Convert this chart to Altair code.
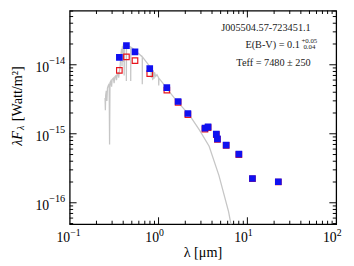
import altair as alt
import pandas as pd

# ---------------- data ----------------
band_wl = [0.362, 0.435, 0.543, 0.796, 1.24, 1.66, 2.14, 3.33, 3.61,
           4.47, 4.60, 5.77, 8.02, 11.4, 22.3]
blue_flux = [1.28e-14, 1.89e-14, 1.54e-14, 8.8e-15, 4.67e-15, 2.94e-15,
             1.97e-15, 1.21e-15, 1.26e-15, 9.9e-16, 8.45e-16, 6.86e-16,
             5.07e-16, 2.25e-16, 2.02e-16]
red_flux = [8.3e-15, 1.30e-14, 1.15e-14, 7.46e-15, 4.3e-15, 2.85e-15,
            1.90e-15, 1.17e-15, 1.23e-15, 9.7e-16, 8.3e-16, 6.8e-16,
            5.0e-16, 2.23e-16, 2.0e-16]

spec_wl = [0.250, 0.252, 0.254, 0.258, 0.262, 0.266, 0.272, 0.278, 0.281,
           0.284, 0.290, 0.296, 0.300, 0.310, 0.316, 0.322, 0.330, 0.336,
           0.342, 0.350, 0.356, 0.362, 0.368, 0.372, 0.378, 0.383, 0.388,
           0.392, 0.397, 0.401, 0.410, 0.4101, 0.412, 0.425, 0.434, 0.4341,
           0.436, 0.460, 0.486, 0.4861, 0.488, 0.520, 0.560, 0.600, 0.656,
           0.6561, 0.658, 0.720, 0.780, 0.820, 0.830, 0.840, 0.860, 0.870,
           0.890, 0.900, 0.930, 0.960, 1.000, 1.005, 1.010, 1.135, 1.280,
           1.590, 2.230, 2.880, 3.710, 4.780, 6.150, 7.200]
spec_flux = [3.3e-15, 2.2e-15, 3.6e-15, 4.2e-15, 3.0e-15, 4.6e-15, 5.0e-15,
             5.3e-15, 7.0e-16, 5.5e-15, 5.8e-15, 4.8e-15, 6.1e-15, 6.4e-15,
             5.4e-15, 6.7e-15, 6.9e-15, 6.0e-15, 7.2e-15, 7.5e-15, 6.5e-15,
             8.0e-15, 9.0e-15, 1.1e-14, 1.45e-14, 1.7e-14, 9.5e-15, 1.85e-14,
             1.1e-14, 1.95e-14, 2.0e-14, 7.0e-15, 2.0e-14, 1.98e-14, 1.95e-14,
             5.8e-15, 1.94e-14, 1.88e-14, 1.8e-14, 5.8e-15, 1.8e-14, 1.7e-14,
             1.56e-14, 1.44e-14, 1.3e-14, 5.2e-15, 1.3e-14, 1.12e-14, 9.8e-15,
             9.0e-15, 6.5e-15, 8.7e-15, 6.0e-15, 8.3e-15, 6.3e-15, 7.8e-15,
             6.8e-15, 7.2e-15, 6.5e-15, 5.0e-15, 6.4e-15, 5.3e-15, 4.3e-15,
             3.03e-15, 1.86e-15, 1.14e-15, 6.6e-16, 2.5e-16, 7.4e-17, 2.5e-17]

# tick values and tick labels (base "10" with exponents)
x_tick_values = [0.1, 1, 10, 100]
x_tick_exps = ["−1", "0", "1", "2"]
y_tick_values = [1e-16, 1e-15, 1e-14]
y_tick_exps = ["−16", "−15", "−14"]
tick_base = "10"
x_minor = [m * 10.0 ** k for k in (-1, 0, 1) for m in range(2, 10)]
y_minor = [m * 10.0 ** k for k in (-17, -16, -15, -14) for m in range(2, 10)]

x_title = "λ [μm]"
y_title_parts = ["λF", "λ", "[Watt/m²]"]

label_name = "J005504.57-723451.1"
label_ebv = "E(B-V) = 0.1"
label_ebv_up = "+0.05"
label_ebv_dn = "0.04"
label_teff = "Teff = 7480 ± 250"

# ---------------- layout ----------------
W, H = 272, 218
XMIN, XMAX = 0.1, 100
YMIN, YMAX = 4.9e-17, 6.1e-14
FONT = "Liberation Serif"

xscale = alt.Scale(type="log", domain=[XMIN, XMAX], nice=False)
yscale = alt.Scale(type="log", domain=[YMIN, YMAX], nice=False)

spec_df = pd.DataFrame({"wl": spec_wl, "flux": spec_flux,
                        "order": list(range(len(spec_wl)))})
phot_df = pd.DataFrame({"wl": band_wl, "blue": blue_flux, "red": red_flux})

spectrum = alt.Chart(spec_df).mark_line(
    color="#c6c6c6", strokeWidth=1.3, clip=True
).encode(
    x=alt.X("wl:Q", scale=xscale, axis=None),
    y=alt.Y("flux:Q", scale=yscale, axis=None),
    order="order:Q",
)

red_pts = alt.Chart(phot_df).mark_point(
    shape="square", filled=False, color="#e8141c", size=32, strokeWidth=1.2,
    opacity=1, clip=True
).encode(
    x=alt.X("wl:Q", scale=xscale, axis=None),
    y=alt.Y("red:Q", scale=yscale, axis=None),
)

blue_pts = alt.Chart(phot_df).mark_point(
    shape="square", filled=True, color="#1010f0", size=46, opacity=1,
    clip=True
).encode(
    x=alt.X("wl:Q", scale=xscale, axis=None),
    y=alt.Y("blue:Q", scale=yscale, axis=None),
)


def xticks(vals, y0, y1):
    return alt.Chart(pd.DataFrame({"v": vals})).mark_rule(
        color="black", strokeWidth=1
    ).encode(x=alt.X("v:Q", scale=xscale, axis=None),
             y=alt.value(y0), y2=alt.value(y1))


def yticks(vals, x0, x1):
    return alt.Chart(pd.DataFrame({"v": vals})).mark_rule(
        color="black", strokeWidth=1
    ).encode(y=alt.Y("v:Q", scale=yscale, axis=None),
             x=alt.value(x0), x2=alt.value(x1))


x_major_inner = [1, 10]
y_minor_in = [v for v in y_minor if YMIN < v < YMAX]
tick_layers = [
    xticks(x_major_inner, H, H - 7), xticks(x_minor, H, H - 3.5),
    xticks(x_major_inner, 0, 7), xticks(x_minor, 0, 3.5),
    yticks(y_tick_values, 0, 7), yticks(y_minor_in, 0, 3.5),
    yticks(y_tick_values, W, W - 7), yticks(y_minor_in, W, W - 3.5),
]

# tick labels built as "10" + raised exponent
xl_df = pd.DataFrame({"v": x_tick_values, "base": [tick_base] * 4,
                      "exp": x_tick_exps})
yl_df = pd.DataFrame({"v": y_tick_values, "base": [tick_base] * 3,
                      "exp": y_tick_exps})

x_lab_base = alt.Chart(xl_df).mark_text(
    font=FONT, fontSize=14, color="black", align="right", baseline="middle",
    dx=0.5
).encode(x=alt.X("v:Q", scale=xscale, axis=None), y=alt.value(H + 14.5),
         text="base:N")
x_lab_exp = alt.Chart(xl_df).mark_text(
    font=FONT, fontSize=10, color="black", align="left", baseline="middle",
    dx=0.5
).encode(x=alt.X("v:Q", scale=xscale, axis=None), y=alt.value(H + 9),
         text="exp:N")
y_lab_base = alt.Chart(yl_df).mark_text(
    font=FONT, fontSize=14, color="black", align="right", baseline="middle",
    dy=3
).encode(y=alt.Y("v:Q", scale=yscale, axis=None), x=alt.value(-21),
         text="base:N")
y_lab_exp = alt.Chart(yl_df).mark_text(
    font=FONT, fontSize=10.5, color="black", align="left", baseline="middle",
    dy=-4
).encode(y=alt.Y("v:Q", scale=yscale, axis=None), x=alt.value(-21),
         text="exp:N")

ann_df = pd.DataFrame({"t": [0]})


def txt(text, x, y, size, align="right", angle=0, style="normal",
        color="#1a1a1a"):
    return alt.Chart(ann_df).mark_text(
        text=text, font=FONT, fontSize=size, color=color, align=align,
        baseline="middle", angle=angle, fontStyle=style
    ).encode(x=alt.value(x), y=alt.value(y))


annotations = [
    txt(label_name, 246, 18, 10.5),
    txt(label_ebv, 235, 35.5, 10.5),
    txt(label_ebv_up, 236.5, 31, 7, "left"),
    txt(label_ebv_dn, 238.5, 37.5, 7, "left"),
    txt(label_teff, 246, 54, 10.5),
]

# axis titles
titles = [
    txt(x_title, W / 2, 248, 14.5, "center", color="black"),
    txt(y_title_parts[0], -53, 138, 14.5, "left", 270, "italic", "black"),
    txt(y_title_parts[1], -49.5, 122, 10, "left", 270, "italic", "black"),
    txt(y_title_parts[2], -53, 113, 14.5, "left", 270, "normal", "black"),
]

chart = alt.layer(
    spectrum, red_pts, blue_pts, *tick_layers,
    x_lab_base, x_lab_exp, y_lab_base, y_lab_exp,
    *annotations, *titles
).properties(
    width=W, height=H,
    autosize=alt.AutoSizeParams(type="none"),
    padding={"left": 63, "top": 0, "right": 10, "bottom": 36},
).configure_view(
    stroke="black", strokeWidth=1.3
)

chart.save("out.html", embed_options={"renderer": "svg", "actions": False})
